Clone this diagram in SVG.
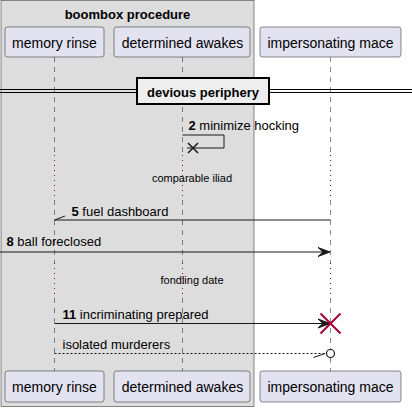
<svg xmlns="http://www.w3.org/2000/svg" width="412" height="412" viewBox="0 0 412 412">
<style>
text{font-family:"Liberation Sans",Arial,sans-serif;fill:#000}
.p rect{fill:#E2E2F0;stroke:#181818;stroke-width:0.5}
.p text{font-size:14px;text-anchor:middle}
.life{stroke:#181818;stroke-width:0.5;stroke-dasharray:5,5;fill:none}
.dly{stroke:#A80036;stroke-width:1;stroke-dasharray:1,4;fill:none}
.m{font-size:13px}
.b{font-weight:bold}
.ln{stroke:#181818;stroke-width:1;fill:none}
.ah{fill:#181818;stroke:#181818;stroke-width:1}
.dt{font-size:11px;text-anchor:middle}
</style>
<g id="box-boombox">
<rect x="1" y="0.5" width="253" height="406" fill="#DDDDDD" stroke="#181818" stroke-width="0.5"/>
<text x="127.5" y="19" class="m b" text-anchor="middle">boombox procedure</text>
</g>
<g id="lifelines">
<path class="life" d="M54.5,57V155M54.5,200V263M54.5,298V371"/>
<path class="dly" d="M54.5,155V200M54.5,263V298"/>
<path class="life" d="M182.5,57V155M182.5,200V263M182.5,298V371"/>
<path class="dly" d="M182.5,155V200M182.5,263V298"/>
<path class="life" d="M330.5,57V155M330.5,200V263M330.5,298V371"/>
<path class="dly" d="M330.5,155V200M330.5,263V298"/>
</g>
<g id="memory-rinse" class="p">
<rect x="5" y="27" width="99" height="30" rx="2.5"/>
<text x="54.5" y="47.5">memory rinse</text>
<rect x="5" y="371" width="99" height="31" rx="2.5"/>
<text x="54.5" y="391.5">memory rinse</text>
</g>
<g id="determined-awakes" class="p">
<rect x="114" y="27" width="136" height="30" rx="2.5"/>
<text x="182.5" y="47.5">determined awakes</text>
<rect x="114" y="371" width="136" height="31" rx="2.5"/>
<text x="182.5" y="391.5">determined awakes</text>
</g>
<g id="impersonating-mace" class="p">
<rect x="260" y="27" width="141" height="30" rx="2.5"/>
<text x="330.5" y="47.5">impersonating mace</text>
<rect x="260" y="371" width="141" height="31" rx="2.5"/>
<text x="330.5" y="391.5">impersonating mace</text>
</g>
<g id="divider">
<line x1="0" y1="89.5" x2="412" y2="89.5" stroke="#000" stroke-width="1"/>
<line x1="0" y1="92.5" x2="412" y2="92.5" stroke="#000" stroke-width="1"/>
<rect x="137" y="78" width="132" height="26" fill="#EEEEEE" stroke="#000" stroke-width="2"/>
<text x="203" y="96.5" class="m b" text-anchor="middle">devious periphery</text>
</g>
<g id="delays">
<text x="192" y="181.5" class="dt">comparable iliad</text>
<text x="192" y="284" class="dt">fondling date</text>
</g>
<g id="connectors">
<path class="ln" d="M182.5,135H224V148H187"/>
<path d="M188,143L198,153M188,153L198,143" stroke="#181818" stroke-width="1.5"/>
<text x="188.5" y="130" class="m"><tspan class="b">2</tspan> minimize hocking</text>
<path class="ln" d="M330.5,220H54.5L65,216"/>
<text x="71.5" y="216" class="m"><tspan class="b">5</tspan> fuel dashboard</text>
<path class="ln" d="M0,252H326"/>
<polygon class="ah" points="330,252 318,247.5 323,252 318,256.5"/>
<text x="6.5" y="246" class="m"><tspan class="b">8</tspan> ball foreclosed</text>
<path class="ln" d="M54.5,323.5H326"/>
<polygon class="ah" points="330,323.5 318,319 323,323.5 318,328"/>
<path d="M320.5,313.5L340.5,333.5M320.5,333.5L340.5,313.5" stroke="#A80036" stroke-width="2"/>
<text x="62.5" y="318.5" class="m"><tspan class="b">11</tspan> incriminating prepared</text>
<path class="ln" d="M54.5,353.5H326" stroke-dasharray="2,2"/>
<path class="ln" d="M313.5,357.5L325,353.5"/>
<circle cx="330.5" cy="353.5" r="4" fill="#fff" stroke="#181818" stroke-width="1.2"/>
<text x="62.5" y="348.5" class="m">isolated murderers</text>
</g>
</svg>
